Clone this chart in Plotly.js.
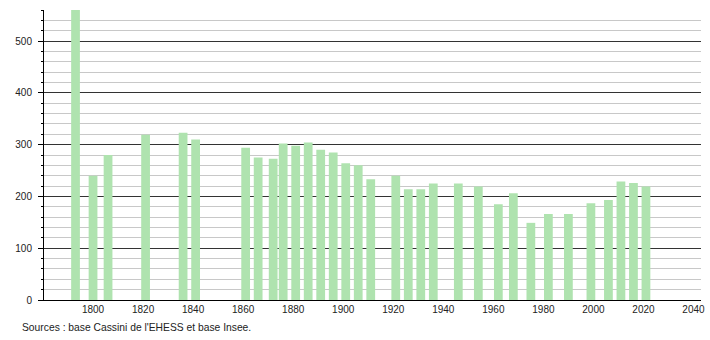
<!DOCTYPE html>
<html>
<head>
<meta charset="utf-8">
<script src="https://cdn.plot.ly/plotly-3.0.1.min.js"></script>
<style>html,body{margin:0;padding:0;background:#fff;}#chart{width:710px;height:340px;}</style>
</head>
<body>
<div id="chart"></div>
<script>
const years = [1793, 1800, 1806, 1821, 1836, 1841, 1861, 1866, 1872, 1876, 1881, 1886, 1891, 1896, 1901, 1906, 1911, 1921, 1926, 1931, 1936, 1946, 1954, 1962, 1968, 1975, 1982, 1990, 1999, 2006, 2011, 2016, 2021];
const population = [562, 240, 280, 319, 323, 310, 294, 275, 273, 302, 298, 304, 290, 285, 264, 260, 233, 240, 214, 214, 225, 225, 219, 185, 206, 149, 166, 166, 187, 193, 229, 226, 219];
const xTicks = [1800, 1820, 1840, 1860, 1880, 1900, 1920, 1940, 1960, 1980, 2000, 2020, 2040];
const yTicks = [0, 100, 200, 300, 400, 500];
const sourceText = "Sources : base Cassini de l'EHESS et base Insee.";

const plotL = 44, plotR = 9, plotT = 10, plotB = 40;
const plotW = 710 - plotL - plotR, plotH = 340 - plotT - plotB;

Plotly.newPlot('chart', [{
  type: 'bar',
  x: years,
  y: population,
  width: 3.5,
  marker: {color: '#afe3af', line: {width: 0}},
  hoverinfo: 'x+y'
}], {
  width: 710, height: 340,
  margin: {l: plotL, r: plotR, t: plotT, b: plotB, pad: 0},
  paper_bgcolor: '#fff', plot_bgcolor: '#fff',
  showlegend: false,
  font: {family: 'Liberation Sans, Arial, sans-serif', size: 10, color: '#222'},
  xaxis: {
    range: [1780.4, 2043],
    tickvals: xTicks,
    ticktext: xTicks.map(String),
    showgrid: false, zeroline: false,
    showline: true, linecolor: '#000', linewidth: 1,
    ticks: '', ticklabelstandoff: 0,
    tickfont: {size: 10, color: '#222'}
  },
  yaxis: {
    range: [0, 560],
    tickvals: yTicks,
    ticktext: yTicks.map(String),
    showgrid: true, gridcolor: '#333', gridwidth: 1,
    zeroline: false,
    showline: true, linecolor: '#000', linewidth: 1,
    ticks: 'outside', ticklen: 5, tickcolor: '#000', tickwidth: 1,
    ticklabelstandoff: 4,
    tickfont: {size: 10, color: '#222'},
    minor: {dtick: 20, tick0: 0, showgrid: true, gridcolor: '#c8c8c8', gridwidth: 1, ticks: 'outside', ticklen: 2, tickcolor: '#000'}
  },
  annotations: [{
    text: sourceText,
    xref: 'paper', yref: 'paper',
    x: (20 - plotL) / plotW, y: -(327 - (340 - plotB)) / plotH,
    xanchor: 'left', yanchor: 'middle',
    showarrow: false,
    font: {size: 10.3, color: '#222', family: 'Liberation Sans, Arial, sans-serif'}
  }]
}, {staticPlot: true, displayModeBar: false});
</script>
</body>
</html>
